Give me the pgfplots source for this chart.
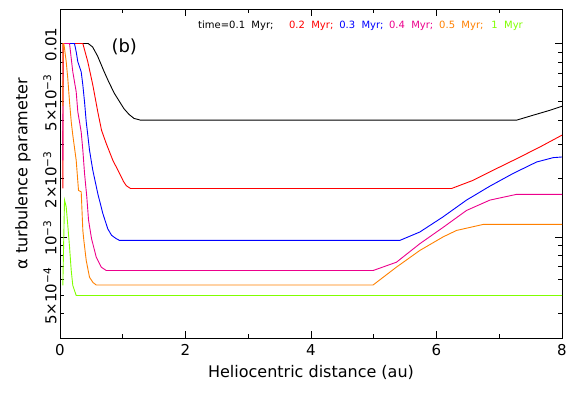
\documentclass[border=0pt]{standalone}
\usepackage{fontspec}
\setmainfont{DejaVu Sans}
\usepackage{pgfplots}
\pgfplotsset{compat=1.18}
\definecolor{cOrange}{RGB}{255,128,0}
\definecolor{cGreen}{RGB}{128,255,0}
\begin{document}
\begin{tikzpicture}
\begin{axis}[
  width=502pt, height=328.5pt, scale only axis,
  xmin=0, xmax=8, ymin=3e-4, ymax=0.015, ymode=log,
  xtick={0,2,4,6,8}, minor xtick={1,3,5,7},
  ytick={1e-3,1e-2}, yticklabels={10\textsuperscript{−3},0.01},
  extra y ticks={5e-4,2e-3,5e-3},
  extra y tick labels={5×10\textsuperscript{−4},2×10\textsuperscript{−3},5×10\textsuperscript{−3}},
  extra y tick style={major tick length=4pt},
  minor ytick={3e-4,4e-4,6e-4,7e-4,8e-4,9e-4,3e-3,4e-3,6e-3,7e-3,8e-3,9e-3},
  tick align=inside, tick pos=both,
  major tick length=7pt, minor tick length=4pt,
  every tick/.style={black, line width=0.8pt},
  axis line style={line width=1pt},
  /pgf/number format/assume math mode=true,
  ticklabel style={font=\fontsize{15}{15}\selectfont},
  xticklabel style={yshift=-3pt},
  yticklabel style={rotate=90, anchor=south, xshift=-1pt},
  xlabel={Heliocentric distance (au)},
  ylabel={α turbulence parameter},
  label style={font=\fontsize{16}{16}\selectfont},
  xlabel style={at={(axis description cs:0.5,-0.1187)}, anchor=base},
  ylabel style={at={(axis description cs:-0.074,0.5)}, anchor=center},
  every axis plot/.append style={line width=0.9pt, mark=none},
]
\addplot[black] coordinates {(0.05,0.01) (0.45,0.01) (0.52,9.6e-3) (0.60,8.6e-3) (0.70,7.2e-3) (0.78,6.3e-3) (0.87,5.5e-3) (0.95,5.0e-3) (1.02,4.6e-3) (1.10,4.3e-3) (1.18,4.1e-3) (1.28,4.02e-3) (7.28,4.02e-3) (7.54,4.26e-3) (7.81,4.52e-3) (8.0,4.74e-3)};
\addplot[red] coordinates {(0.045,1.78e-3) (0.05,0.01) (0.364,0.01) (0.443,8.05e-3) (0.523,6.10e-3) (0.603,4.42e-3) (0.662,3.56e-3) (0.737,3.04e-3) (0.842,2.49e-3) (0.949,2.13e-3) (1.01,1.94e-3) (1.056,1.84e-3) (1.124,1.78e-3) (6.24,1.78e-3) (6.58,1.96e-3) (6.90,2.21e-3) (7.28,2.54e-3) (7.65,2.92e-3) (8.0,3.36e-3)};
\addplot[blue] coordinates {(0.05,0.01) (0.231,0.01) (0.258,9.07e-3) (0.284,8.05e-3) (0.338,7.14e-3) (0.364,6.10e-3) (0.391,4.99e-3) (0.418,3.94e-3) (0.443,3.36e-3) (0.470,2.81e-3) (0.523,2.21e-3) (0.603,1.67e-3) (0.683,1.32e-3) (0.762,1.10e-3) (0.821,1.02e-3) (0.896,9.79e-4) (0.949,9.59e-4) (5.415,9.59e-4) (5.734,1.06e-3) (6.105,1.27e-3) (6.478,1.55e-3) (6.850,1.83e-3) (7.222,2.13e-3) (7.595,2.44e-3) (7.860,2.57e-3) (8.0,2.59e-3)};
\addplot[magenta] coordinates {(0.045,2.49e-3) (0.05,0.01) (0.152,0.01) (0.179,8.38e-3) (0.204,7.14e-3) (0.258,5.63e-3) (0.284,4.43e-3) (0.311,3.94e-3) (0.338,3.48e-3) (0.364,2.81e-3) (0.391,2.13e-3) (0.427,1.61e-3) (0.455,1.22e-3) (0.502,9.82e-4) (0.577,7.86e-4) (0.657,6.98e-4) (0.737,6.70e-4) (4.989,6.70e-4) (5.362,7.40e-4) (5.734,9.22e-4) (6.105,1.12e-3) (6.478,1.37e-3) (6.850,1.55e-3) (7.276,1.66e-3) (8.0,1.66e-3)};
\addplot[cOrange] coordinates {(0.045,4.74e-3) (0.05,0.01) (0.06,0.01) (0.072,9.44e-3) (0.099,8.05e-3) (0.124,6.60e-3) (0.152,4.99e-3) (0.179,3.94e-3) (0.204,3.36e-3) (0.258,2.49e-3) (0.295,1.74e-3) (0.338,1.71e-3) (0.364,1.08e-3) (0.380,9.59e-4) (0.418,7.55e-4) (0.470,6.19e-4) (0.526,5.81e-4) (0.577,5.64e-4) (4.989,5.64e-4) (5.362,6.98e-4) (5.734,8.51e-4) (6.105,1.0e-3) (6.319,1.08e-3) (6.743,1.16e-3) (8.0,1.16e-3)};
\addplot[cGreen] coordinates {(0.045,5.61e-4) (0.072,1.55e-3) (0.099,1.43e-3) (0.124,1.15e-3) (0.152,8.86e-4) (0.179,6.70e-4) (0.204,5.61e-4) (0.258,4.98e-4) (8.0,4.98e-4)};
\node[anchor=west, inner sep=0, font=\fontsize{10}{12}\selectfont, black] at (rel axis cs:0.275,0.95) {time=0.1\ \ Myr;};
\node[anchor=west, inner sep=0, font=\fontsize{10}{12}\selectfont, red] at (rel axis cs:0.456,0.95) {0.2\ \ Myr;};
\node[anchor=west, inner sep=0, font=\fontsize{10}{12}\selectfont, blue] at (rel axis cs:0.556,0.95) {0.3\ \ Myr;};
\node[anchor=west, inner sep=0, font=\fontsize{10}{12}\selectfont, magenta] at (rel axis cs:0.655,0.95) {0.4\ \ Myr;};
\node[anchor=west, inner sep=0, font=\fontsize{10}{12}\selectfont, cOrange] at (rel axis cs:0.755,0.95) {0.5\ \ Myr;};
\node[anchor=west, inner sep=0, font=\fontsize{10}{12}\selectfont, cGreen] at (rel axis cs:0.859,0.95) {1\ \ Myr};
\node[font=\fontsize{18}{18}\selectfont] at (rel axis cs:0.128,0.886) {(b)};
\end{axis}
\pgfresetboundingbox
\path ([shift={(-60pt,-65pt)}]current axis.south west) rectangle ([shift={(5pt,9.5pt)}]current axis.north east);
\end{tikzpicture}
\end{document}
